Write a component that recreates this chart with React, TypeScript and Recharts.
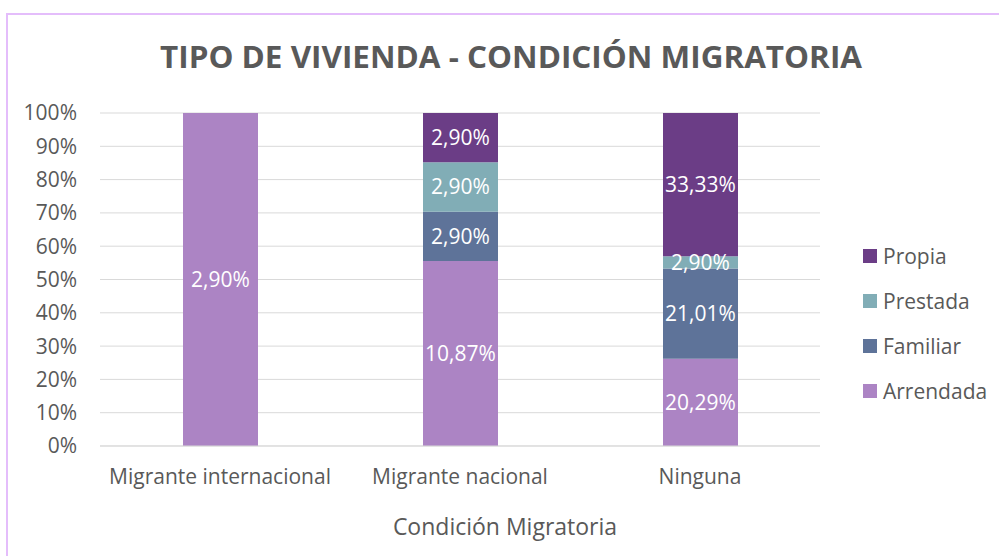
import React from 'react';
import { BarChart, Bar, XAxis, YAxis, CartesianGrid, Legend, LabelList, Label } from 'recharts';

const categories = ['Migrante internacional', 'Migrante nacional', 'Ninguna'];
const arrendada = [2.9, 10.87, 20.29];
const familiar = [0, 2.9, 21.01];
const prestada = [0, 2.9, 2.9];
const propia = [0, 2.9, 33.33];
const yTicks = [0, 0.1, 0.2, 0.3, 0.4, 0.5, 0.6, 0.7, 0.8, 0.9, 1];

const series = [
  { key: 'Arrendada', color: '#AC84C4' },
  { key: 'Familiar', color: '#5E7399' },
  { key: 'Prestada', color: '#81ADB6' },
  { key: 'Propia', color: '#6B3D86' },
];

const data = categories.map((c, i) => ({
  name: c,
  Arrendada: arrendada[i],
  Familiar: familiar[i],
  Prestada: prestada[i],
  Propia: propia[i],
}));

const FONT = '"Open Sans", sans-serif';
const GREY = '#595959';

const fmt = (v: any) => (v ? Number(v).toFixed(2).replace('.', ',') + '%' : '');

const XTick = (props: any) => {
  const { x, y, payload } = props;
  return (
    <text x={x} y={y + 38} textAnchor="middle" fill={GREY} fontSize={21} fontFamily={FONT}>
      {payload.value}
    </text>
  );
};

const AxisTitle = (props: any) => {
  const vb = props.viewBox || { x: 100, width: 720, y: 446, height: 100 };
  return (
    <text
      x={vb.x + vb.width / 2 + 45}
      y={535}
      textAnchor="middle"
      fill={GREY}
      fontSize={23}
      fontFamily={FONT}
    >
      Condición Migratoria
    </text>
  );
};

const LegendContent = () => {
  const items = [...series].reverse();
  return (
    <div style={{ fontFamily: FONT, paddingLeft: 43 }}>
      {items.map((s) => (
        <div key={s.key} style={{ display: 'flex', alignItems: 'center', height: 45 }}>
          <div style={{ width: 14, height: 14, background: s.color, marginRight: 6 }} />
          <span style={{ fontSize: 21, color: GREY }}>{s.key}</span>
        </div>
      ))}
    </div>
  );
};

export default function App() {
  return (
    <div style={{ position: 'absolute', left: 0, top: 0, width: 999, height: 556, overflow: 'hidden', background: '#fff' }}>
      <div
        style={{
          position: 'absolute',
          left: 6,
          top: 13,
          width: 1100,
          height: 700,
          border: '2px solid #E4BDFB',
          boxSizing: 'border-box',
        }}
      />
      <svg style={{ position: 'absolute', left: 0, top: 0 }} width={999} height={100}>
        <text
          x={511}
          y={68}
          textAnchor="middle"
          fontFamily={FONT}
          fontWeight="bold"
          fontSize={31}
          fill={GREY}
          textLength={702}
          lengthAdjust="spacingAndGlyphs"
        >
          TIPO DE VIVIENDA - CONDICIÓN MIGRATORIA
        </text>
      </svg>
      <div style={{ position: 'absolute', left: 0, top: 0 }}>
        <BarChart
          width={999}
          height={556}
          data={data}
          stackOffset="expand"
          margin={{ top: 113, right: 10, bottom: 10, left: 20 }}
        >
          <CartesianGrid vertical={false} stroke="#D9D9D9" strokeWidth={1} />
          <XAxis
            dataKey="name"
            height={100}
            axisLine={{ stroke: '#D9D9D9' }}
            tickLine={false}
            tickSize={0}
            tickMargin={0}
            tick={<XTick />}
            interval={0}
          >
            <Label content={<AxisTitle />} />
          </XAxis>
          <YAxis
            width={80}
            domain={[0, 1]}
            ticks={yTicks}
            tickFormatter={(v: number) => Math.round(v * 100) + '%'}
            axisLine={false}
            tickLine={false}
            tickSize={0}
            tickMargin={23}
            tick={{ fill: GREY, fontSize: 21, fontFamily: FONT }}
            interval={0}
          />
          <Legend
            layout="vertical"
            align="right"
            verticalAlign="middle"
            width={169}
            content={<LegendContent />}
            wrapperStyle={{ top: 233, width: 169 }}
          />
          {series.map((s) => (
            <Bar key={s.key} dataKey={s.key} stackId="a" fill={s.color} barSize={75} isAnimationActive={false}>
              <LabelList
                dataKey={s.key}
                position="center"
                formatter={fmt}
                fill="#FFFFFF"
                fontSize={21}
                fontFamily={FONT}
              />
            </Bar>
          ))}
        </BarChart>
      </div>
    </div>
  );
}
